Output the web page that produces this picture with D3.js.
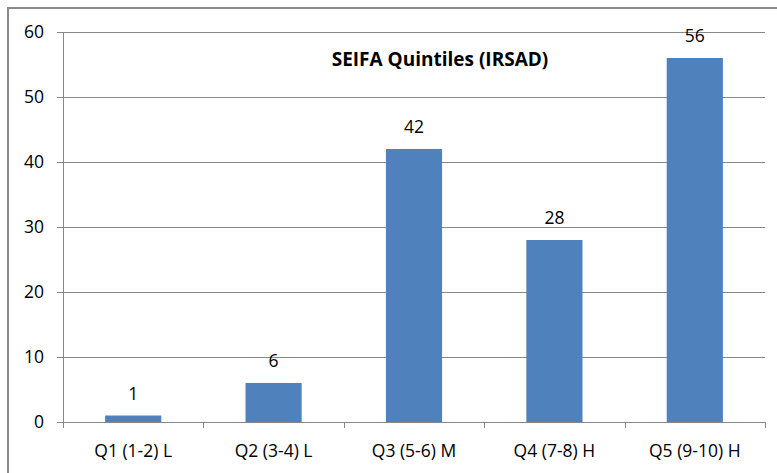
<!DOCTYPE html>
<html>
<head>
<meta charset="utf-8">
<script src="https://cdn.jsdelivr.net/npm/d3@7/dist/d3.min.js"></script>
<style>
  body { margin: 0; background: #fff; }
  text { font-family: "Open Sans", "Liberation Sans", sans-serif; fill: #000; }
</style>
</head>
<body>
<div class="container"></div>
<script>
  var width = 777,
    height = 473;

  var categories = ["Q1 (1-2) L", "Q2 (3-4) L", "Q3 (5-6) M", "Q4 (7-8) H", "Q5 (9-10) H"];
  var values = [1, 6, 42, 28, 56];
  var yTicks = [0, 10, 20, 30, 40, 50, 60];
  var title = "SEIFA Quintiles (IRSAD)";

  var margin = { left: 63, right: 12, top: 32, bottom: 51 };

  var svg = d3.select(".container").append("svg")
    .attr("width", width)
    .attr("height", height);

  // outer chart frame
  svg.append("rect")
    .attr("x", 8).attr("y", 8)
    .attr("width", width + 10).attr("height", height + 10)
    .attr("fill", "none")
    .attr("stroke", "#8a8a8a")
    .attr("stroke-width", 2);

  var x = d3.scaleBand()
    .domain(categories)
    .range([margin.left, 765])
    .paddingInner(0.6)
    .paddingOuter(0.3);

  var y = d3.scaleLinear()
    .domain([0, 60])
    .range([422, 32]);

  // gridlines
  svg.append("g")
    .selectAll("line")
    .data(yTicks)
    .enter().append("line")
    .attr("x1", 57).attr("x2", 765)
    .attr("y1", function(d) { return Math.round(y(d)) + 0.5; })
    .attr("y2", function(d) { return Math.round(y(d)) + 0.5; })
    .attr("stroke", "#878787")
    .attr("stroke-width", 1);

  // y axis labels
  svg.append("g")
    .selectAll("text")
    .data(yTicks)
    .enter().append("text")
    .attr("x", 44)
    .attr("y", function(d) { return y(d) + 6; })
    .attr("text-anchor", "end")
    .style("font-size", "17.5px")
    .text(function(d) { return d; });

  // y axis line
  svg.append("line")
    .attr("x1", 63.5).attr("x2", 63.5)
    .attr("y1", 32).attr("y2", 422)
    .attr("stroke", "#878787");

  // category ticks
  var tickX = [margin.left].concat(categories.map(function(c) { return x(c) + x.bandwidth() / 2 + x.step() / 2; }));
  svg.append("g")
    .selectAll("line")
    .data(tickX)
    .enter().append("line")
    .attr("x1", function(d) { return Math.round(d) + 0.5; })
    .attr("x2", function(d) { return Math.round(d) + 0.5; })
    .attr("y1", 422).attr("y2", 428)
    .attr("stroke", "#878787");

  // bars
  svg.append("g")
    .selectAll("rect")
    .data(values)
    .enter().append("rect")
    .attr("x", function(d, i) { return x(categories[i]); })
    .attr("y", function(d) { return y(d); })
    .attr("width", x.bandwidth())
    .attr("height", function(d) { return y(0) - y(d); })
    .attr("fill", "#4f81bd");

  // value labels
  svg.append("g")
    .selectAll("text")
    .data(values)
    .enter().append("text")
    .attr("x", function(d, i) { return x(categories[i]) + x.bandwidth() / 2; })
    .attr("y", function(d) { return y(d) - 16; })
    .attr("text-anchor", "middle")
    .style("font-size", "17.5px")
    .text(function(d) { return d; });

  // category labels
  svg.append("g")
    .selectAll("text")
    .data(categories)
    .enter().append("text")
    .attr("x", function(d) { return x(d) + x.bandwidth() / 2; })
    .attr("y", 457)
    .attr("text-anchor", "middle")
    .style("font-size", "17.5px")
    .text(function(d) { return d; });

  // title
  svg.append("text")
    .attr("x", 440)
    .attr("y", 66)
    .attr("text-anchor", "middle")
    .style("font-size", "19px")
    .style("font-weight", "bold")
    .text(title);
</script>
</body>
</html>
